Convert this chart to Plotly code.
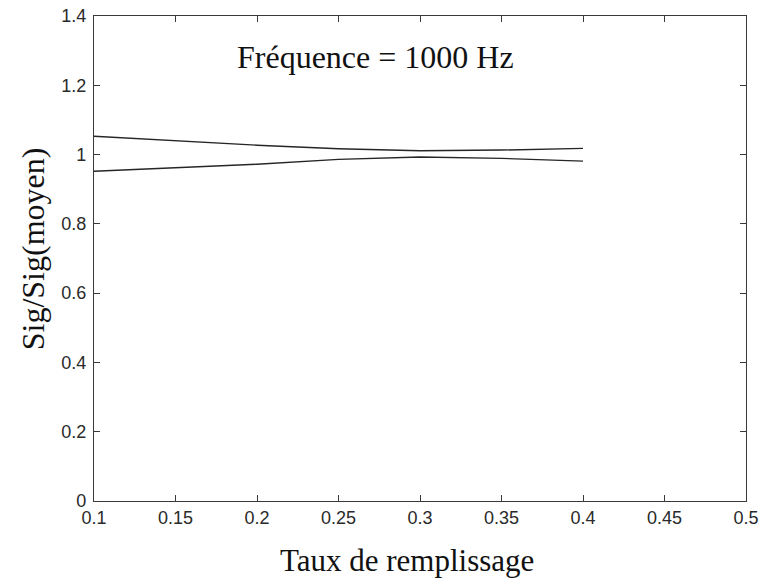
import plotly.graph_objects as go

# Data
taux = [0.10, 0.15, 0.20, 0.25, 0.30, 0.35, 0.40]
sig_upper = [1.053, 1.040, 1.027, 1.017, 1.011, 1.013, 1.018]
sig_lower = [0.952, 0.962, 0.972, 0.986, 0.993, 0.989, 0.981]

x_tickvals = [0.1, 0.15, 0.2, 0.25, 0.3, 0.35, 0.4, 0.45, 0.5]
x_ticktext = ["0.1", "0.15", "0.2", "0.25", "0.3", "0.35", "0.4", "0.45", "0.5"]
y_tickvals = [0, 0.2, 0.4, 0.6, 0.8, 1.0, 1.2, 1.4]
y_ticktext = ["0", "0.2", "0.4", "0.6", "0.8", "1", "1.2", "1.4"]

line_color = "#262626"
axis_color = "#3a3a3a"

fig = go.Figure()
fig.add_trace(go.Scatter(x=taux, y=sig_upper, mode="lines",
                         line=dict(color=line_color, width=1.4), showlegend=False))
fig.add_trace(go.Scatter(x=taux, y=sig_lower, mode="lines",
                         line=dict(color=line_color, width=1.4), showlegend=False))

tick_font = dict(family="Liberation Sans, Arial, sans-serif", size=18, color="#2a2a2a")

fig.update_xaxes(range=[0.1, 0.5], tickvals=x_tickvals, ticktext=x_ticktext,
                 ticks="inside", ticklen=6, tickcolor=axis_color, tickwidth=1,
                 showline=True, linecolor=axis_color, linewidth=1.3, mirror="ticks",
                 showgrid=False, zeroline=False, tickfont=tick_font, ticklabelstandoff=0,
                 automargin=False, ticklabeloverflow="allow")
fig.update_yaxes(range=[0, 1.4], tickvals=y_tickvals, ticktext=y_ticktext,
                 ticks="inside", ticklen=6, tickcolor=axis_color, tickwidth=1,
                 showline=True, linecolor=axis_color, linewidth=1.3, mirror="ticks",
                 showgrid=False, zeroline=False, tickfont=tick_font, ticklabelstandoff=3,
                 automargin=False, ticklabeloverflow="allow")

serif = "Liberation Serif, Times New Roman, serif"
fig.add_annotation(x=0.2727, y=1.281, xref="x", yref="y", text="Fréquence = 1000 Hz",
                   showarrow=False, font=dict(family=serif, size=32, color="#111"))
fig.add_annotation(x=0.480, y=-0.122, xref="paper", yref="paper", text="Taux de remplissage",
                   showarrow=False, font=dict(family=serif, size=31, color="#111"),
                   yanchor="middle")
fig.add_annotation(x=-0.0936, y=0.521, xref="paper", yref="paper", text="Sig/Sig(moyen)",
                   showarrow=False, textangle=-90, font=dict(family=serif, size=32, color="#111"),
                   xanchor="center", yanchor="middle")

fig.update_layout(width=760, height=581,
                  margin=dict(l=94, r=14, t=16, b=80, autoexpand=False),
                  paper_bgcolor="white", plot_bgcolor="white")

fig.write_html("out.html", config={"displayModeBar": False},
               post_script="document.body.style.margin='0';document.body.style.overflow='hidden';")
